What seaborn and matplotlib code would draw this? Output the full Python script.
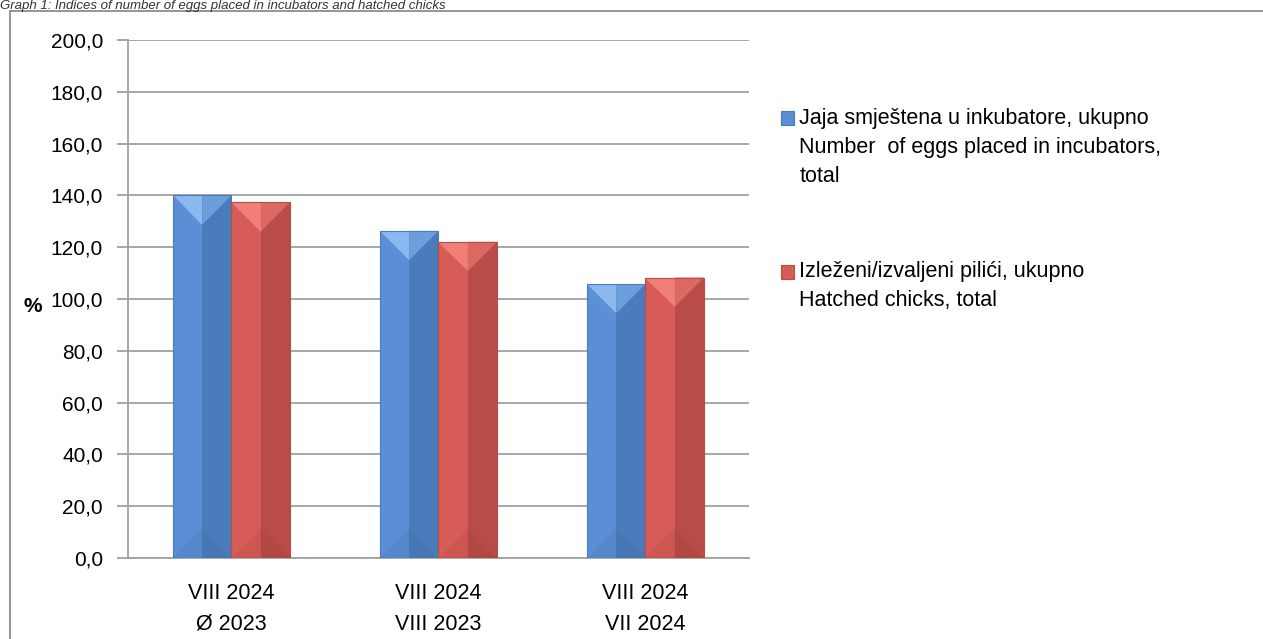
import numpy as np
import pandas as pd
import seaborn as sns
import matplotlib.pyplot as plt
from matplotlib.patches import Polygon, Rectangle
from matplotlib.legend_handler import HandlerPatch
from matplotlib.ticker import FixedLocator, FuncFormatter

# Data
categories = ["VIII 2024\nØ 2023", "VIII 2024\nVIII 2023", "VIII 2024\nVII 2024"]
eggs = [140.0, 126.3, 105.8]
chicks = [137.3, 122.1, 108.3]
series_labels = [
    "Jaja smještena u inkubatore, ukupno\nNumber  of eggs placed in incubators,\ntotal",
    "Izleženi/izvaljeni pilići, ukupno\nHatched chicks, total",
]
y_ticks = [0, 20, 40, 60, 80, 100, 120, 140, 160, 180, 200]
title = "Graph 1: Indices of number of eggs placed in incubators and hatched chicks"

df = pd.DataFrame({
    "period": categories * 2,
    "series": [series_labels[0]] * 3 + [series_labels[1]] * 3,
    "value": eggs + chicks,
})

# face colours: (left face, right face, top-left bevel, top-right bevel, bottom-left, bottom-right)
blue = ("#5B8FD5", "#4A7CBB", "#8BB8EF", "#6D9EDC", "#5587CB", "#4778B5")
red = ("#D75B57", "#B94B48", "#F07F7A", "#DC6863", "#CD5652", "#B24845")

sns.set_theme(style="white")
plt.rcParams["font.family"] = ["Liberation Sans", "DejaVu Sans"]
plt.rcParams["text.color"] = "black"
plt.rcParams["xtick.labelcolor"] = "black"
plt.rcParams["ytick.labelcolor"] = "black"
plt.rcParams["axes.labelcolor"] = "black"

fig = plt.figure(figsize=(12.63, 6.39), dpi=100)
ax = fig.add_axes([128 / 1263, 81 / 639, 621 / 1263, 518 / 639])

sns.barplot(data=df, x="period", y="value", hue="series",
            palette=[blue[0], red[0]], width=0.566, saturation=1,
            linewidth=0, legend=False, ax=ax)

ax.set_xlim(-0.5, 2.5)
ax.set_ylim(0, 200)

# bevel shading derived from the bars seaborn drew
px_per_x = 621 / 3.0
px_per_y = 518 / 200.0
bar_patches = [p for p in ax.patches if p.get_height() > 0]
for i, p in enumerate(bar_patches):
    cols = blue if i < 3 else red
    x0, w, h = p.get_x(), p.get_width(), p.get_height()
    xm, x1 = x0 + w / 2, x0 + w
    d = (w / 2) * px_per_x / px_per_y
    ax.add_patch(Rectangle((xm, 0), w / 2, h, color=cols[1], lw=0, zorder=3))
    ax.add_patch(Polygon([(x0, 0), (xm, d), (xm, 0)], closed=True,
                         color=cols[4], lw=0, zorder=3))
    ax.add_patch(Polygon([(xm, 0), (xm, d), (x1, 0)], closed=True,
                         color=cols[5], lw=0, zorder=3))
    ax.add_patch(Polygon([(x0, h), (xm, h), (xm, h - d)], closed=True,
                         color=cols[2], lw=0, zorder=3))
    ax.add_patch(Polygon([(xm, h), (x1, h), (xm, h - d)], closed=True,
                         color=cols[3], lw=0, zorder=3))
    ax.add_patch(Rectangle((x0, 0), w, h, fill=False, ec=cols[1], lw=0.8, zorder=4))

# axes styling
ax.set_axisbelow(True)
ax.yaxis.set_major_locator(FixedLocator(y_ticks))
ax.yaxis.set_major_formatter(FuncFormatter(lambda v, pos: f"{v:.1f}".replace(".", ",")))
ax.grid(axis="y", color="#A0A0A0", lw=1.3)
ax.grid(axis="x", visible=False)
for s in ["top", "right"]:
    ax.spines[s].set_visible(False)
for s in ["left", "bottom"]:
    ax.spines[s].set_color("#A0A0A0")
    ax.spines[s].set_linewidth(1.3)

ax.set_xticks([-0.5, 0.5, 1.5, 2.5])
ax.set_xticklabels([])
ax.set_xticks([0, 1, 2], minor=True)
ax.set_xticklabels(categories, minor=True, fontsize=15.5, linespacing=1.6)
ax.tick_params(axis="x", which="major", length=8, width=1.3, color="#A0A0A0", direction="out")
ax.tick_params(axis="x", which="minor", length=0, pad=18)
ax.tick_params(axis="y", length=8, width=1.3, color="#A0A0A0", direction="out",
               labelsize=15, pad=10, left=True)
ax.set_xlabel("")
ax.set_ylabel("%", rotation=0, fontsize=15, fontweight="bold", va="center")
ax.yaxis.set_label_coords(-0.153, 0.485)


# legend, with the marker next to the first line of each label
def make_handler(nlines, fontsize=15.5, spacing=1.5):
    shift = (nlines - 1) / 2 * fontsize * spacing * 0.92

    def patch_func(legend, orig_handle, xdescent, ydescent, width, height, fontsize):
        return Rectangle((-xdescent, -ydescent + shift), width, height)
    return HandlerPatch(patch_func=patch_func)


handles = [Rectangle((0, 0), 1, 1, facecolor=blue[0], edgecolor=blue[1], lw=0.8),
           Rectangle((0, 0), 1, 1, facecolor=red[0], edgecolor=red[1], lw=0.8)]
leg = ax.legend(handles, series_labels, loc="upper left",
                bbox_to_anchor=(770 / 1263, 1 - 97 / 639), bbox_transform=fig.transFigure,
                frameon=False, fontsize=15.5, handlelength=0.62, handleheight=0.62,
                handletextpad=0.25, labelspacing=3.45, borderpad=0,
                handler_map={handles[0]: make_handler(3), handles[1]: make_handler(2)})
for t in leg.get_texts():
    t.set_linespacing(1.5)
    t.set_color("black")

# frame and caption squeezed above it
fig.patches.append(Rectangle((10 / 1263, -0.1), 1.2, (639 - 11) / 639 + 0.1,
                             transform=fig.transFigure, fill=False,
                             edgecolor="#8C8C8C", lw=1.3))
fig.text(0.0, 1 - 9 / 639, title, fontsize=9.5, style="italic", color="#333333",
         va="baseline", ha="left")

fig.savefig("out.png", dpi=100)
